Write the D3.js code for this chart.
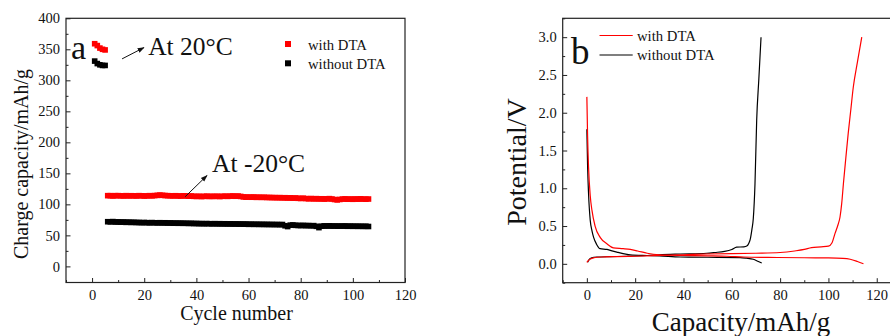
<!DOCTYPE html>
<html>
<head>
    <script src="https://cdnjs.cloudflare.com/ajax/libs/d3/7.8.5/d3.min.js"></script>
    <style>
        body { margin: 0; background: #fff; }
        svg text { font-family: "Liberation Serif", "Times New Roman", serif; fill: #111; }
        .tick line { stroke: #222; stroke-width: 1; }
        .frame { fill: none; stroke: #222; stroke-width: 1.2; }
    </style>
</head>
<body>
    <div id="chart"></div>
    <script>
        const width = 890, height = 336;

        // ---- panel a : charge capacity vs cycle ----
        const cyclesWarm = [1, 2, 3, 4, 5];
        const withWarm = [359, 356, 352, 350, 349];
        const withoutWarm = [331, 327, 325, 324, 324];

        const cyclesCold = d3.range(6, 107);
        const withCold = [
            114, 114, 113.5, 114, 114, 113.8, 113.5, 114, 113.6, 113.9,
            113.7, 113.5, 114, 113.8, 113.4, 113.6, 114, 113.7, 114.2, 114.5,
            115, 114.6, 114.2, 114, 113.8, 113.6, 113.9, 113.5, 113.4, 113.8,
            113.6, 113.2, 113.5, 113, 112.8, 113, 112.6, 112.9, 113.2, 112.7,
            113, 112.8, 113.1, 112.6, 113, 113.2, 112.9, 113.3, 113.5, 113.1,
            113.4, 112.8, 112, 111.6, 111.8, 111.5, 111.9, 111.3, 111.6, 111.2,
            111.5, 111, 111.2, 110.8, 111, 110.6, 110.9, 110.4, 110.7, 110.2,
            110.5, 110, 110.3, 109.8, 109.5, 109.9, 109.3, 109, 109.4, 108.8,
            109.2, 108.7, 109, 108.5, 108.9, 109.2, 108.6, 107.8, 107.2, 107.9,
            108.5, 108.8, 108.3, 108.6, 108.2, 108.7, 108.4, 108.9, 108.5, 108.3, 108.6
        ];
        const withoutCold = [
            72, 71.8, 72.2, 71.5, 71.7, 71.3, 71.6, 71, 71.4, 70.8,
            71.2, 70.6, 70.9, 70.4, 70.7, 70.5, 70.2, 70.6, 70.3, 70.1,
            70.4, 70, 70.3, 69.8, 70.1, 69.6, 69.9, 69.5, 69.8, 69.4,
            69.6, 69.2, 69.5, 69, 69.3, 68.8, 69.1, 68.7, 69, 68.8,
            68.6, 68.9, 68.5, 68.8, 68.4, 68.7, 68.3, 68.6, 68.2, 68.5,
            68.1, 68.4, 68, 68.3, 67.8, 68.1, 67.7, 68, 67.6, 67.9,
            67.5, 67.8, 67.4, 67.7, 67.3, 67.6, 67.2, 67.5, 65.5, 64.2,
            66.5, 66.8, 66.2, 66, 65.8, 66.1, 65.6, 65.9, 65.4, 65.7,
            64.6, 62.5, 64.8, 65.3, 65, 65.4, 64.9, 65.2, 64.8, 65.1,
            64.9, 65.2, 64.7, 65, 64.6, 64.9, 64.5, 64.8, 64.4, 64.7, 64.3
        ];
        const cycleTicks = [0, 20, 40, 60, 80, 100, 120];
        const capTicks = [0, 50, 100, 150, 200, 250, 300, 350, 400];

        // ---- panel b : potential vs capacity ----
        const withDisCap = [0, 0.3, 0.7, 1.4, 2.1, 3.4, 5.5, 8.3, 11, 15, 18, 21, 25, 30, 40, 50, 58, 65, 75, 90, 100, 106, 109, 112, 114.5];
        const withDisV = [2.21, 1.7, 1.28, 0.9, 0.71, 0.5, 0.35, 0.265, 0.21, 0.2, 0.19, 0.17, 0.14, 0.12, 0.11, 0.105, 0.1, 0.09, 0.085, 0.08, 0.078, 0.072, 0.06, 0.03, 0];
        const withChCap = [0, 0.5, 1.5, 3, 6, 12, 20, 30, 40, 50, 60, 70, 80, 86, 90, 93, 97, 100, 101.5, 102.7, 104, 104.8, 105.5, 106.2, 107.2, 108.2, 109.3, 110.3, 112, 113.8];
        const withChV = [0.02, 0.04, 0.065, 0.08, 0.09, 0.095, 0.1, 0.11, 0.12, 0.13, 0.135, 0.14, 0.15, 0.17, 0.19, 0.215, 0.225, 0.235, 0.28, 0.4, 0.52, 0.62, 0.8, 1.06, 1.4, 1.73, 2.05, 2.34, 2.67, 3.0];
        const withoutDisCap = [0, 0.3, 0.7, 1.4, 2.1, 2.8, 4, 5.5, 8.3, 10, 12.4, 15, 17.9, 24.8, 30, 38.6, 50, 63.4, 66, 68.9, 71, 72.4];
        const withoutDisV = [1.78, 1.3, 0.93, 0.575, 0.44, 0.35, 0.26, 0.2, 0.19, 0.175, 0.155, 0.135, 0.12, 0.11, 0.105, 0.09, 0.087, 0.083, 0.075, 0.06, 0.03, 0.01];
        const withoutChCap = [0.3, 1, 2, 4.1, 10, 16.5, 25, 30, 38.6, 49.6, 53, 57, 60, 62, 65, 66.2, 67, 67.6, 68.3, 68.9, 69.6, 70.3, 71.2, 72.1];
        const withoutChV = [0.02, 0.06, 0.08, 0.09, 0.095, 0.1, 0.11, 0.12, 0.13, 0.14, 0.15, 0.165, 0.19, 0.22, 0.225, 0.235, 0.27, 0.32, 0.45, 0.6, 1.06, 1.9, 2.45, 3.0];
        const capacityTicks = [0, 20, 40, 60, 80, 100, 120];
        const potentialTicks = [0, 0.5, 1, 1.5, 2, 2.5, 3];

        const serif = "'Liberation Serif', 'Times New Roman', serif";

        const svg = d3.select("#chart").append("svg")
            .attr("width", width).attr("height", height);
        svg.append("rect").attr("width", width).attr("height", height).attr("fill", "#fff");

        const defs = svg.append("defs");
        defs.append("marker").attr("id", "arrow")
            .attr("viewBox", "0 0 10 10").attr("refX", 9).attr("refY", 5)
            .attr("markerWidth", 7).attr("markerHeight", 7).attr("orient", "auto")
            .append("path").attr("d", "M0,1.5L10,5L0,8.5Z").attr("fill", "#111");

        function drawAxes(g, x, y, xTicks, yTicks, xMinor, yMinor, yFmt) {
            const ax = g.append("g").attr("transform", `translate(0,${y.range()[0]})`)
                .call(d3.axisBottom(x).tickValues(xTicks).tickSize(-4.5).tickPadding(7));
            ax.select(".domain").remove();
            const axm = g.append("g").attr("transform", `translate(0,${y.range()[0]})`)
                .call(d3.axisBottom(x).tickValues(xMinor).tickSize(-2.5).tickFormat(""));
            axm.select(".domain").remove();
            const ay = g.append("g").attr("transform", `translate(${x.range()[0]},0)`)
                .call(d3.axisLeft(y).tickValues(yTicks).tickSize(-4.5).tickPadding(6).tickFormat(yFmt));
            ay.select(".domain").remove();
            const aym = g.append("g").attr("transform", `translate(${x.range()[0]},0)`)
                .call(d3.axisLeft(y).tickValues(yMinor).tickSize(-2.5).tickFormat(""));
            aym.select(".domain").remove();
            g.selectAll(".tick text")
                .style("font-family", serif)
                .style("font-size", "14.5px")
                .style("fill", "#111");
        }

        // ================= panel a =================
        const xa = d3.scaleLinear().domain([-10, 120]).range([66, 405]);
        const ya = d3.scaleLinear().domain([-26, 400]).range([282.5, 18.3]);
        const ga = svg.append("g");

        drawAxes(ga, xa, ya, cycleTicks, capTicks,
            d3.range(-10, 121, 10).filter(v => v % 20 !== 0),
            d3.range(25, 400, 50), d3.format("d"));

        ga.append("rect").attr("class", "frame")
            .attr("x", xa.range()[0]).attr("y", ya.range()[1])
            .attr("width", xa.range()[1] - xa.range()[0])
            .attr("height", ya.range()[0] - ya.range()[1]);

        const sq = 5.6;
        const seriesA = [
            { cycles: cyclesCold, values: withCold, color: "#ff0000" },
            { cycles: cyclesCold, values: withoutCold, color: "#000" },
            { cycles: cyclesWarm, values: withWarm, color: "#ff0000" },
            { cycles: cyclesWarm, values: withoutWarm, color: "#000" }
        ];
        seriesA.forEach(s => {
            ga.append("g").selectAll("rect")
                .data(s.values)
                .enter().append("rect")
                .attr("x", (d, i) => xa(s.cycles[i]) - sq / 2)
                .attr("y", d => ya(d) - sq / 2)
                .attr("width", sq).attr("height", sq)
                .attr("fill", s.color);
        });

        // legend a
        const legA = [{ name: "with DTA", color: "#ff0000" }, { name: "without DTA", color: "#000" }];
        legA.forEach((l, i) => {
            ga.append("rect").attr("x", 285).attr("y", 41 + i * 19.3)
                .attr("width", 6).attr("height", 6).attr("fill", l.color);
            ga.append("text").attr("x", 308).attr("y", 49.5 + i * 19.3)
                .attr("font-size", 14.7).text(l.name);
        });

        // annotations a
        ga.append("text").attr("x", 71).attr("y", 59).attr("font-size", 34).text("a");
        ga.append("line")
            .attr("x1", xa(11.5)).attr("y1", ya(334.6)).attr("x2", xa(19.9)).attr("y2", ya(352.8))
            .attr("stroke", "#111").attr("stroke-width", 1).attr("marker-end", "url(#arrow)");
        ga.append("text").attr("x", xa(21.5)).attr("y", ya(341)).attr("font-size", 25.5).text("At 20°C");
        ga.append("line")
            .attr("x1", xa(35.7)).attr("y1", ya(112.3)).attr("x2", xa(44.1)).attr("y2", ya(146.6))
            .attr("stroke", "#111").attr("stroke-width", 1).attr("marker-end", "url(#arrow)");
        ga.append("text").attr("x", xa(46)).attr("y", ya(151.4)).attr("font-size", 25.5).text("At -20°C");

        ga.append("text").attr("x", (xa.range()[0] + xa.range()[1]) / 2 + 1).attr("y", 319.5)
            .attr("text-anchor", "middle").attr("font-size", 20).text("Cycle number");
        ga.append("text").attr("transform", "translate(27.5,164) rotate(-90)")
            .attr("text-anchor", "middle").attr("font-size", 20).text("Charge capacity/mAh/g");

        // ================= panel b =================
        const xb = d3.scaleLinear().domain([-10, 130]).range([562.7, 900.9]);
        const yb = d3.scaleLinear().domain([-0.25, 3.25]).range([282.7, 18.3]);
        const gb = svg.append("g");

        drawAxes(gb, xb, yb, capacityTicks, potentialTicks,
            d3.range(-10, 131, 10).filter(v => v % 20 !== 0),
            d3.range(-0.25, 3.26, 0.5), d3.format(".1f"));

        gb.append("rect").attr("class", "frame")
            .attr("x", xb.range()[0]).attr("y", yb.range()[1])
            .attr("width", xb.range()[1] - xb.range()[0])
            .attr("height", yb.range()[0] - yb.range()[1]);

        const line = d3.line().x(d => xb(d[0])).y(d => yb(d[1])).curve(d3.curveMonotoneX);
        const curves = [
            { cap: withoutDisCap, v: withoutDisV, color: "#000" },
            { cap: withoutChCap, v: withoutChV, color: "#000" },
            { cap: withDisCap, v: withDisV, color: "#ff0000" },
            { cap: withChCap, v: withChV, color: "#ff0000" }
        ];
        curves.forEach(c => {
            gb.append("path")
                .datum(c.cap.map((d, i) => [d, c.v[i]]))
                .attr("d", line)
                .attr("fill", "none")
                .attr("stroke", c.color)
                .attr("stroke-width", 1.2);
        });

        // legend b
        const legB = [{ name: "with DTA", color: "#ff0000" }, { name: "without DTA", color: "#000" }];
        legB.forEach((l, i) => {
            gb.append("line").attr("x1", 599.5).attr("x2", 632.7)
                .attr("y1", 35.5 + i * 19.5).attr("y2", 35.5 + i * 19.5)
                .attr("stroke", l.color).attr("stroke-width", 1.2);
            gb.append("text").attr("x", 637).attr("y", 40.5 + i * 19.5)
                .attr("font-size", 14.7).text(l.name);
        });

        gb.append("text").attr("x", 571).attr("y", 64).attr("font-size", 37).text("b");

        gb.append("text").attr("x", 741).attr("y", 331)
            .attr("text-anchor", "middle").attr("font-size", 27).text("Capacity/mAh/g");
        gb.append("text").attr("transform", "translate(526,162) rotate(-90)")
            .attr("text-anchor", "middle").attr("font-size", 28).text("Potential/V");
    </script>
</body>
</html>
